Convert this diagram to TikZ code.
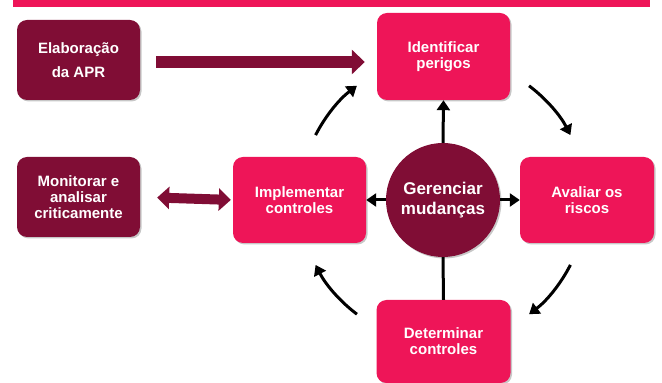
\documentclass[tikz,border=0pt]{standalone}
\usepackage{fontspec}
\setmainfont{Liberation Sans}
\usetikzlibrary{arrows.meta,shadows}
\definecolor{maroon}{HTML}{800D35}
\definecolor{rosa}{HTML}{EE1558}
\begin{document}
\begin{tikzpicture}[x=1pt,y=1pt,
  shadowed/.style={drop shadow={shadow xshift=1.5pt,shadow yshift=-1.5pt,opacity=0.22,fill=black}},
  darkbox/.style={shadowed,fill=maroon,rounded corners=10pt,minimum width=123pt,minimum height=80pt,
    text=white,font=\fontsize{15}{16}\selectfont\bfseries,align=center,inner sep=0pt},
  pinkbox/.style={shadowed,fill=rosa,rounded corners=10pt,minimum width=133pt,minimum height=86pt,
    text=white,font=\fontsize{15}{16}\selectfont\bfseries,align=center,inner sep=0pt},
  blk/.style={line width=3pt,draw=black,-{Triangle[length=10pt,width=13pt]}},
  fat/.style={draw=maroon,line width=12pt,-{Triangle[length=13pt,width=24pt]}},
  fatdbl/.style={draw=maroon,line width=10pt,{Triangle[length=12pt,width=22pt]}-{Triangle[length=12pt,width=22pt]}}
]
\useasboundingbox (0,0) rectangle (662,383);
\fill[rosa] (13,376) rectangle (650,390);

\node[darkbox] (elab) at (78.5,323) {Elaboração\\[8pt]da APR};
\node[darkbox] (monit) at (78.5,186) {Monitorar e\\analisar\\criticamente};
\node[pinkbox,minimum height=87pt] (ident) at (443.5,326.5) {Identificar\\perigos};
\node[pinkbox] (impl) at (299.5,183) {Implementar\\controles};
\node[pinkbox,minimum width=134pt] (aval) at (587,183) {Avaliar os\\riscos};
\node[pinkbox,minimum width=134pt,minimum height=83pt] (det) at (443.5,41.5) {Determinar\\controles};
\node[shadowed,circle,fill=maroon,minimum size=114pt,inner sep=0pt,text=white,align=center,
  font=\fontsize{17}{20}\selectfont\bfseries] (ger) at (443,183) {Gerenciar\\mudanças};

\draw[fat,shorten <=16pt,shorten >=12pt] (elab.east |- 0,321) -- (ident.west |- 0,321);
\draw[fatdbl,shorten <=17pt,shorten >=2pt] (monit.east) -- (impl.west);

\draw[blk] (ger.north) -- (ident.south);
\draw[blk] (ger.west) -- (impl.east);
\draw[blk] (ger.east) -- (aval.west);
\draw[line width=3pt] (ger.south) -- (det.north);

\draw[blk] ([shift={(153:143)}]ger.center) arc[start angle=153,end angle=127,radius=143];
\draw[blk] ([shift={(53:143)}]ger.center) arc[start angle=53,end angle=27,radius=143];
\draw[blk] ([shift={(-27:143)}]ger.center) arc[start angle=-27,end angle=-53,radius=143];
\draw[blk] ([shift={(-127:143)}]ger.center) arc[start angle=-127,end angle=-153,radius=143];
\end{tikzpicture}
\end{document}
